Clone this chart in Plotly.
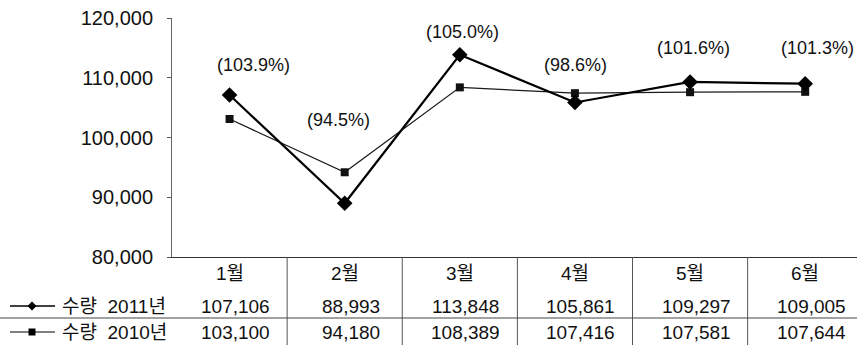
import plotly.graph_objects as go

# ---- data ----
months = ["1월", "2월", "3월", "4월", "5월", "6월"]
qty_2011 = [107106, 88993, 113848, 105861, 109297, 109005]
qty_2010 = [103100, 94180, 108389, 107416, 107581, 107644]
ratio_labels = ["(103.9%)", "(94.5%)", "(105.0%)", "(98.6%)", "(101.6%)", "(101.3%)"]
name_2011 = "수량  2011년"
name_2010 = "수량  2010년"
y_ticks = [80000, 90000, 100000, 110000, 120000]

# ---- label placement (positions only) ----
label_y = [112100, 102900, 117600, 112100, 115000, 115000]
label_dx = [24, -6, 3, 1, 3, 12]

W, H = 857, 345
L, T, B = 172, 18, 88
PW, PH = W - L, H - T - B

def px_x(px):
    return (px - L) / PW

def px_y(py):
    return (H - B - py) / PH

FONT = "Liberation Sans, Arial, Noto Sans CJK KR, sans-serif"

fig = go.Figure()
fig.add_trace(go.Scatter(
    x=months, y=qty_2010, mode="lines+markers", name=name_2010,
    line=dict(color="#1a1a1a", width=1.2),
    marker=dict(symbol="square", size=8, color="#111"),
    showlegend=False, cliponaxis=False))
fig.add_trace(go.Scatter(
    x=months, y=qty_2011, mode="lines+markers", name=name_2011,
    line=dict(color="#000", width=2.2),
    marker=dict(symbol="diamond", size=12, color="#000"),
    showlegend=False, cliponaxis=False))

annotations = []
for m, t, ly, dx in zip(months, ratio_labels, label_y, label_dx):
    annotations.append(dict(x=m, y=ly, xref="x", yref="y", text=t, showarrow=False,
                            xshift=dx, font=dict(size=18, color="#111", family=FONT)))

row_h = px_y(273)
row_1 = px_y(306)
row_2 = px_y(332)
for i, m in enumerate(months):
    annotations.append(dict(x=m, y=row_h, xref="x", yref="paper", text=m, showarrow=False,
                            yanchor="middle", font=dict(size=19, color="#111", family=FONT)))
    annotations.append(dict(x=m, y=row_1, xref="x", yref="paper", text=f"{qty_2011[i]:,}",
                            showarrow=False, xshift=6, yanchor="middle",
                            font=dict(size=19, color="#111", family=FONT)))
    annotations.append(dict(x=m, y=row_2, xref="x", yref="paper", text=f"{qty_2010[i]:,}",
                            showarrow=False, xshift=6, yanchor="middle",
                            font=dict(size=19, color="#111", family=FONT)))

for name, ry in [(name_2011, row_1), (name_2010, row_2)]:
    annotations.append(dict(x=px_x(60), y=ry, xref="paper", yref="paper",
                            text=name.replace("  ", "\u00a0\u00a0"), showarrow=False,
                            xanchor="left", yanchor="middle",
                            font=dict(size=19, color="#111", family=FONT)))

shapes = []
# column separators in the table
for k in range(len(months) - 1):
    shapes.append(dict(type="line", xref="x", yref="paper", x0=k + 0.5, x1=k + 0.5,
                       y0=0, y1=px_y(H + 5), line=dict(color="#555", width=1)))
# row separator
shapes.append(dict(type="line", xref="paper", yref="paper", x0=px_x(0), x1=1,
                   y0=px_y(318), y1=px_y(318), line=dict(color="#444", width=1)))
# legend keys
for py, sym in [(306, "diamond"), (332, "square")]:
    shapes.append(dict(type="line", xref="paper", yref="paper", x0=px_x(10), x1=px_x(55),
                       y0=px_y(py), y1=px_y(py), line=dict(color="#000", width=1.5 if sym == "diamond" else 1)))
    cx = 32
    if sym == "diamond":
        r = 4.5
        path = (f"M {px_x(cx - r)} {px_y(py)} L {px_x(cx)} {px_y(py - r)} "
                f"L {px_x(cx + r)} {px_y(py)} L {px_x(cx)} {px_y(py + r)} Z")
    else:
        r = 3.5
        path = (f"M {px_x(cx - r)} {px_y(py - r)} L {px_x(cx + r)} {px_y(py - r)} "
                f"L {px_x(cx + r)} {px_y(py + r)} L {px_x(cx - r)} {px_y(py + r)} Z")
    shapes.append(dict(type="path", xref="paper", yref="paper", path=path,
                       fillcolor="#000", line=dict(color="#000", width=0)))

fig.update_layout(
    width=W, height=H,
    margin=dict(l=L, r=0, t=T, b=B, pad=0),
    paper_bgcolor="white", plot_bgcolor="white",
    annotations=annotations, shapes=shapes,
    xaxis=dict(type="category", categoryorder="array", categoryarray=months,
               range=[-0.5, 5.45], showticklabels=False, ticks="",
               showgrid=False, zeroline=False, showline=True,
               linecolor="#333", linewidth=1),
    yaxis=dict(range=[80000, 120000], tickvals=y_ticks, tickformat=",",
               ticks="outside", ticklen=4, tickcolor="#555",
               ticklabelstandoff=10,
               tickfont=dict(size=20, color="#111", family=FONT),
               showgrid=False, zeroline=False, showline=True,
               linecolor="#666", linewidth=1),
)

fig.write_html("out.html")
